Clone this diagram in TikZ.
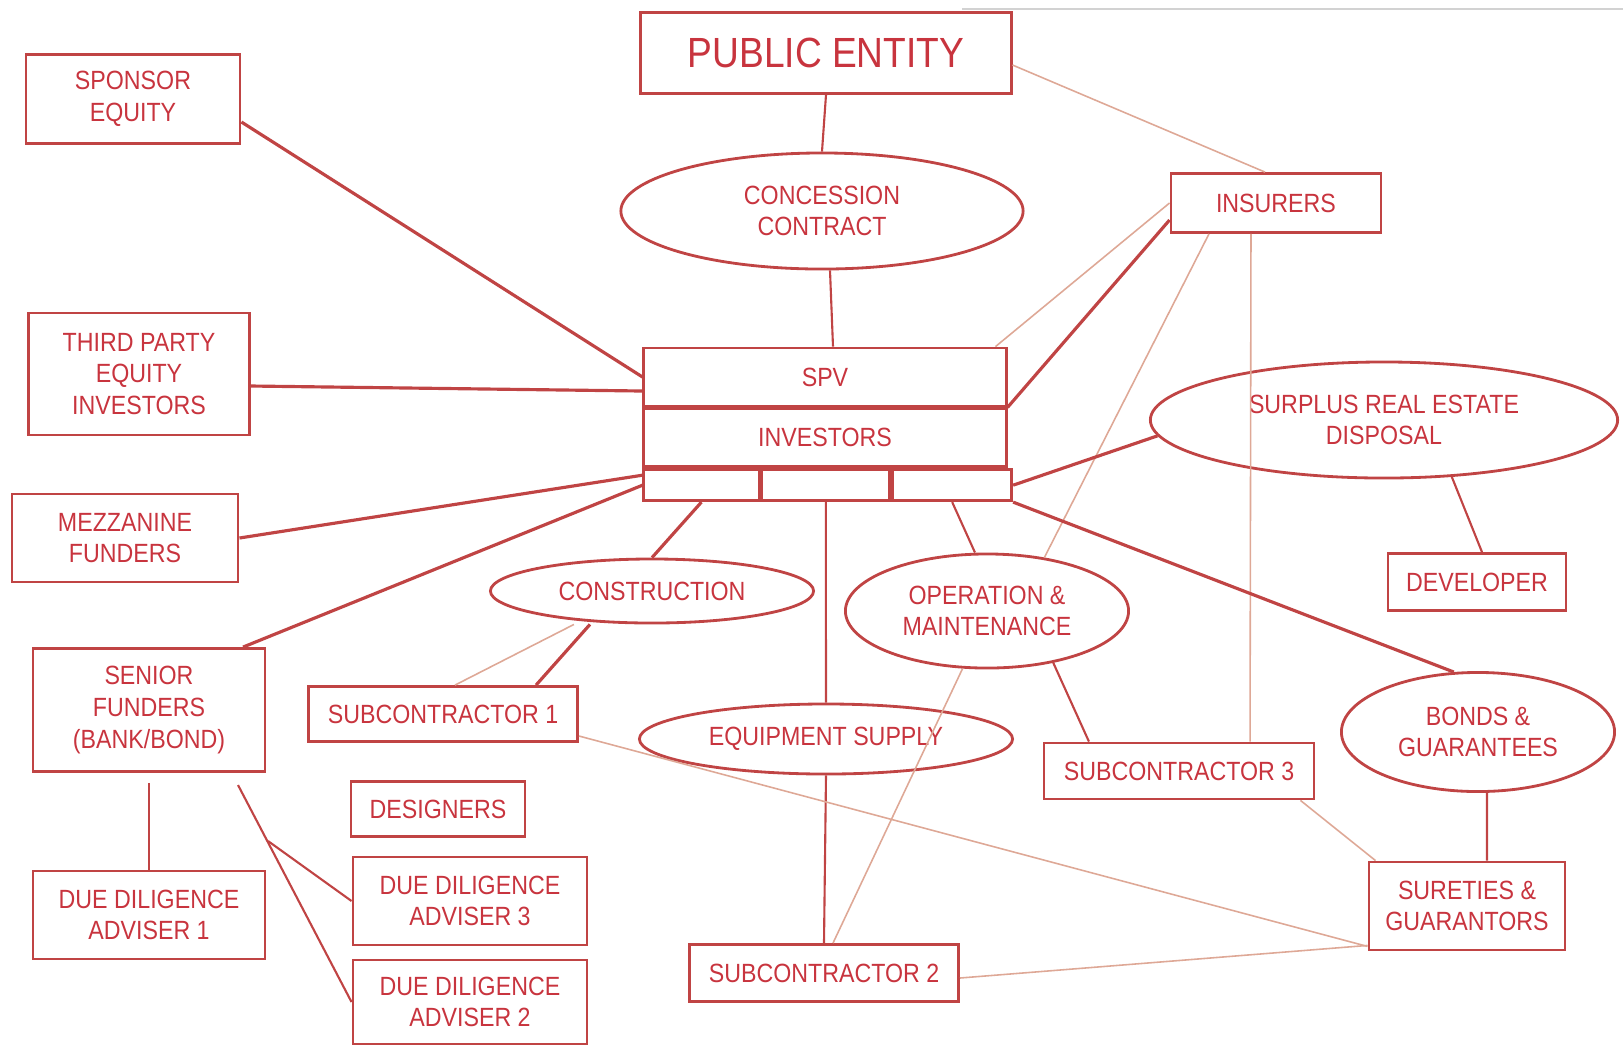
\documentclass[tikz,border=0pt]{standalone}
\usepackage{fontspec}
\setmainfont{Liberation Sans}[FakeStretch=0.88]
\usepackage{tikz}
\usetikzlibrary{shapes.geometric,positioning}
\definecolor{pptred}{RGB}{200,52,62}
\definecolor{pptline}{RGB}{192,68,68}
\definecolor{pptfaint}{RGB}{222,168,150}

\begin{document}
\begin{tikzpicture}[x=0.01cm,y=-0.01cm]
\tikzstyle{every node}+=[inner sep=0pt, text=pptred, align=center, font=\fontsize{7.5}{9}\selectfont]
\tikzstyle{box}=[draw=pptline, line width=0.8pt, rectangle]
\tikzstyle{oval}=[draw=pptline, line width=0.8pt, ellipse]
\tikzstyle{link}=[draw=pptline, line width=0.6pt]
\tikzstyle{heavy}=[draw=pptline, line width=0.9pt]
\tikzstyle{faint}=[draw=pptfaint, line width=0.45pt]
\useasboundingbox (0,0) rectangle (1623,1047);
\draw [gray!35, line width=0.8pt] (962,9) -- (1623,9);
\node [box, minimum width=3.70cm, minimum height=0.81cm, font=\fontsize{12}{14}\selectfont] (pub) at (826,53) {PUBLIC ENTITY};
\node [box, minimum width=2.14cm, minimum height=0.89cm] (spons) at (133,99) {SPONSOR\\EQUITY};
\node [oval, minimum width=4.02cm, minimum height=1.16cm] (conc) at (822,211) {CONCESSION\\CONTRACT};
\node [box, minimum width=2.10cm, minimum height=0.59cm] (insur) at (1276,203) {INSURERS};
\node [box, minimum width=2.21cm, minimum height=1.22cm] (third) at (139,374) {THIRD PARTY\\EQUITY\\INVESTORS};
\node [box, minimum width=3.62cm, minimum height=0.58cm] (spv) at (825,377) {SPV};
\node [box, minimum width=3.62cm, minimum height=0.58cm, below=0pt of spv] (inv) {INVESTORS};
\node [box, minimum width=1.15cm, minimum height=0.31cm, anchor=north west] (cellA) at (inv.south west) {};
\node [box, minimum width=1.28cm, minimum height=0.31cm, right=0pt of cellA] (cellB) {};
\node [box, minimum width=1.19cm, minimum height=0.31cm, right=0pt of cellB] (cellC) {};
\node [oval, minimum width=4.67cm, minimum height=1.16cm] (surplus) at (1384,420) {SURPLUS REAL ESTATE\\DISPOSAL};
\node [box, minimum width=2.26cm, minimum height=0.88cm] (mezz) at (125,538) {MEZZANINE\\FUNDERS};
\node [oval, minimum width=3.23cm, minimum height=0.64cm] (constr) at (652,591) {CONSTRUCTION};
\node [oval, minimum width=2.83cm, minimum height=1.14cm] (om) at (987,611) {OPERATION \&\\MAINTENANCE};
\node [box, minimum width=1.78cm, minimum height=0.57cm] (devel) at (1477,582) {DEVELOPER};
\node [box, minimum width=2.32cm, minimum height=1.23cm] (senior) at (149,710) {SENIOR\\FUNDERS\\(BANK/BOND)};
\node [box, minimum width=2.69cm, minimum height=0.55cm] (subA) at (443,714) {SUBCONTRACTOR 1};
\node [oval, minimum width=3.73cm, minimum height=0.70cm] (equip) at (826,739) {EQUIPMENT SUPPLY};
\node [box, minimum width=2.70cm, minimum height=0.56cm] (subC) at (1179,771) {SUBCONTRACTOR 3};
\node [oval, minimum width=2.73cm, minimum height=1.19cm] (bonds) at (1478,732) {BONDS \&\\GUARANTEES};
\node [box, minimum width=1.74cm, minimum height=0.55cm] (design) at (438,809) {DESIGNERS};
\node [box, minimum width=2.32cm, minimum height=0.88cm] (ddA) at (149,915) {DUE DILIGENCE\\ADVISER 1};
\node [box, minimum width=2.34cm, minimum height=0.88cm] (ddC) at (470,901) {DUE DILIGENCE\\ADVISER 3};
\node [box, minimum width=2.34cm, minimum height=0.84cm] (ddB) at (470,1002) {DUE DILIGENCE\\ADVISER 2};
\node [box, minimum width=2.69cm, minimum height=0.57cm] (subB) at (824,973) {SUBCONTRACTOR 2};
\node [box, minimum width=1.96cm, minimum height=0.88cm] (surety) at (1467,906) {SURETIES \&\\GUARANTORS};
\coordinate (sfout) at (238,785);
\coordinate (fork) at (268,841);
\draw [link] (pub.south) -- (conc.north);
\draw [link] ([xshift=0.08cm]conc.south) -- ([xshift=0.08cm]spv.north);
\draw [faint] ([yshift=-0.12cm]pub.east) -- ([xshift=-0.11cm]insur.north);
\draw [heavy] ([yshift=-0.23cm]spons.east) -- (spv.west);
\draw [heavy] ([yshift=-0.12cm]third.east) -- ([yshift=-0.14cm]spv.west);
\draw [heavy] (mezz.east) -- ([yshift=0.1cm]cellA.west);
\draw [heavy] ([xshift=0.94cm]senior.north) -- (cellA.west);
\draw [heavy] (cellA.south) -- (constr.north);
\draw [heavy] ([xshift=-0.62cm]constr.south) -- ([xshift=0.93cm]subA.north);
\draw [faint] ([xshift=-0.78cm]constr.south) -- ([xshift=0.12cm]subA.north);
\draw [link] (cellB.south) -- (equip.north);
\draw [link] (cellC.south) -- ([xshift=-0.12cm]om.north);
\draw [heavy] (spv.south east) -- ([yshift=-0.17cm]insur.west);
\draw [faint] ([xshift=-0.12cm]spv.north east) -- (insur.west);
\draw [faint] ([xshift=-0.67cm]insur.south) -- (om.43);
\draw [faint] ([xshift=-0.25cm]insur.south) -- ([xshift=0.71cm]subC.north);
\draw [heavy] (cellC.east) -- (surplus.-176);
\draw [heavy] (cellC.south east) -- (bonds.112);
\draw [link] (surplus.-40) -- ([xshift=0.05cm]devel.north);
\draw [link] (om.-38) -- ([xshift=-0.9cm]subC.north);
\draw [faint] (om.-113) -- ([xshift=0.09cm]subB.north);
\draw [link] (equip.south) -- (subB.north);
\draw [faint] ([yshift=-0.22cm]subA.east) -- ([yshift=0.05cm]surety.south west);
\draw [faint] ([yshift=-0.05cm]subB.east) -- ([yshift=0.06cm]surety.south west);
\draw [faint] ([xshift=-0.15cm]subC.south east) -- ([xshift=0.08cm]surety.north west);
\draw [link] ([xshift=0.09cm]bonds.south) -- ([xshift=0.2cm]surety.north);
\draw [link] ([yshift=-0.1cm]senior.south) -- (ddA.north);
\draw [link] (sfout) -- (ddB.west);
\draw [link] (fork) -- (ddC.west);
\end{tikzpicture}
\end{document}
